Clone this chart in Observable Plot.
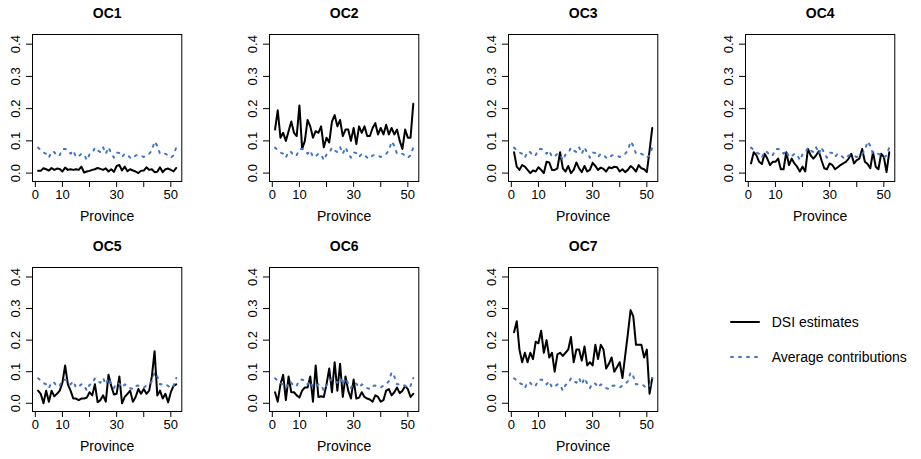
<!DOCTYPE html>
<html><head><meta charset="utf-8">
<script src="https://cdn.jsdelivr.net/npm/d3@7"></script>
<script src="https://cdn.jsdelivr.net/npm/@observablehq/plot@0.6"></script>
<style>
body{margin:0;background:#fff;}
#wrap{position:relative;width:921px;height:459px;font-family:"Liberation Sans",Arial,Helvetica,sans-serif;color:#000;}
#wrap svg{position:absolute;overflow:visible;}
.leg{position:absolute;font-size:14px;line-height:16px;white-space:nowrap;}
</style></head><body><div id="wrap"></div>
<script>
const province = [1,2,3,4,5,6,7,8,9,10,11,12,13,14,15,16,17,18,19,20,21,22,23,24,25,26,27,28,29,30,31,32,33,34,35,36,37,38,39,40,41,42,43,44,45,46,47,48,49,50,51,52];
const avgContrib = [0.079,0.072,0.064,0.06,0.048,0.067,0.065,0.053,0.056,0.074,0.075,0.072,0.06,0.07,0.05,0.052,0.06,0.058,0.04,0.058,0.062,0.079,0.07,0.065,0.08,0.06,0.08,0.062,0.048,0.064,0.062,0.05,0.06,0.056,0.048,0.045,0.055,0.056,0.054,0.05,0.056,0.06,0.07,0.098,0.085,0.06,0.06,0.06,0.055,0.048,0.055,0.08];
const oc1 = [0.007,0.007,0.015,0.012,0.008,0.016,0.01,0.014,0.013,0.005,0.017,0.01,0.012,0.01,0.012,0.01,0.02,0.002,0.005,0.007,0.01,0.012,0.016,0.013,0.01,0.015,0.005,0.012,0.004,0.022,0.025,0.008,0.02,0.006,0.012,0.008,0.005,0.0,0.007,0.008,0.018,0.01,0.012,0.003,0.004,0.018,0.003,0.012,0.014,0.01,0.005,0.016];
const oc2 = [0.135,0.195,0.11,0.125,0.1,0.13,0.16,0.125,0.115,0.21,0.075,0.1,0.165,0.145,0.11,0.13,0.125,0.145,0.08,0.11,0.095,0.16,0.18,0.145,0.165,0.115,0.135,0.135,0.1,0.14,0.09,0.145,0.125,0.145,0.115,0.115,0.14,0.155,0.12,0.14,0.12,0.15,0.12,0.14,0.12,0.135,0.1,0.075,0.135,0.11,0.11,0.215];
const oc3 = [0.065,0.02,0.01,0.025,0.02,0.01,0.0,0.008,0.005,0.018,0.01,0.0,0.035,0.033,0.01,0.01,0.015,0.065,0.015,0.005,0.022,0.0,0.01,0.033,0.015,0.003,0.022,0.005,0.01,0.032,0.022,0.01,0.017,0.013,0.005,0.018,0.015,0.02,0.018,0.005,0.012,0.003,0.01,0.022,0.015,0.005,0.025,0.015,0.012,0.003,0.07,0.14];
const oc4 = [0.03,0.065,0.055,0.035,0.028,0.06,0.045,0.025,0.035,0.035,0.045,0.012,0.012,0.065,0.025,0.045,0.03,0.02,0.005,0.02,0.005,0.075,0.055,0.045,0.055,0.068,0.04,0.015,0.012,0.03,0.025,0.012,0.018,0.025,0.03,0.035,0.045,0.06,0.03,0.04,0.045,0.075,0.035,0.028,0.015,0.065,0.02,0.012,0.06,0.05,0.003,0.065];
const oc5 = [0.04,0.03,0.0,0.04,0.005,0.04,0.022,0.03,0.04,0.065,0.12,0.06,0.04,0.015,0.015,0.01,0.015,0.015,0.018,0.035,0.025,0.06,0.003,0.01,0.025,0.005,0.09,0.055,0.028,0.03,0.085,0.0,0.02,0.03,0.04,0.005,0.02,0.045,0.03,0.045,0.03,0.04,0.085,0.165,0.025,0.04,0.015,0.03,0.003,0.035,0.055,0.06];
const oc6 = [0.035,0.005,0.06,0.09,0.01,0.085,0.035,0.035,0.025,0.018,0.04,0.05,0.05,0.085,0.005,0.12,0.02,0.022,0.02,0.06,0.11,0.035,0.13,0.04,0.125,0.02,0.085,0.04,0.015,0.075,0.015,0.018,0.035,0.02,0.015,0.012,0.005,0.025,0.02,0.005,0.01,0.04,0.045,0.025,0.035,0.05,0.032,0.04,0.055,0.045,0.02,0.03];
const oc7 = [0.225,0.26,0.17,0.13,0.16,0.13,0.16,0.14,0.195,0.19,0.23,0.16,0.2,0.145,0.16,0.1,0.155,0.16,0.15,0.16,0.17,0.21,0.13,0.17,0.17,0.135,0.18,0.12,0.13,0.12,0.185,0.14,0.185,0.17,0.11,0.125,0.145,0.1,0.115,0.13,0.08,0.15,0.22,0.295,0.275,0.185,0.185,0.185,0.145,0.17,0.03,0.08];
const panelNames = ["OC1","OC2","OC3","OC4","OC5","OC6","OC7"];
const panelSeries = [oc1,oc2,oc3,oc4,oc5,oc6,oc7];
const seriesNames = ["DSI estimates","Average contributions"];
const xTicks = [0,10,20,30,40,50];
const xTickLabels = [0,10,30,50];
const yTicks = [0,0.1,0.2,0.3,0.4];
const xLabel = "Province";

const blue = "#4575C4";
const colLeft = [31.7, 269.3, 507.7, 745];
const boxW = 149.3;
const rowSvgTop = [0, 229], rowSvgH = [229, 230];
const rowBoxTop = [34, 267], rowBoxBottom = [181, 411];
const wrap = document.getElementById("wrap");

panelNames.forEach((name, k) => {
  const col = k % 4, row = Math.floor(k / 4);
  const svgLeft = colLeft[col] - 32;
  const mL = 32, mR = 10;
  const mT = rowBoxTop[row] - rowSvgTop[row];
  const mB = rowSvgTop[row] + rowSvgH[row] - rowBoxBottom[row];
  const data = province.map((p, i) => ({p, dsi: panelSeries[k][i], avg: avgContrib[i]}));
  const chart = Plot.plot({
    width: mL + boxW + mR, height: rowSvgH[row],
    marginLeft: mL, marginRight: mR, marginTop: mT, marginBottom: mB,
    x: {domain: [-1.04, 54.04]},
    y: {domain: [-0.026, 0.43]},
    style: {fontFamily: '"Liberation Sans",Arial,Helvetica,sans-serif', fontSize: "13px", color: "#000", background: "transparent", overflow: "visible"},
    marks: [
      Plot.line(data, {x: "p", y: "dsi", stroke: "#000", strokeWidth: 2, strokeLinejoin: "round", strokeLinecap: "round"}),
      Plot.line(data, {x: "p", y: "avg", stroke: blue, strokeWidth: 2, strokeDasharray: "2,6", strokeLinecap: "round"}),
      Plot.frame({stroke: "#000", strokeWidth: 1}),
      Plot.axisX({ticks: xTicks, tickFormat: d => xTickLabels.includes(d) ? String(d) : "", tickSize: 6, tickPadding: 2, fontSize: 13, label: null}),
      Plot.axisY({ticks: yTicks, tickFormat: d3.format(".1f"), tickSize: 6, tickPadding: 7, tickRotate: -90, fontSize: 13, label: null}),
      Plot.text([name], {frameAnchor: "top", dy: -20.5, text: d => d, fontWeight: "bold", fontSize: 14, lineAnchor: "middle"}),
      Plot.text([xLabel], {frameAnchor: "bottom", dy: 35.5, text: d => d, fontSize: 14, lineAnchor: "middle"})
    ]
  });
  chart.style.left = svgLeft + "px";
  chart.style.top = rowSvgTop[row] + "px";
  wrap.appendChild(chart);
});

// legend
const legY = [321.7, 356.7];
seriesNames.forEach((s, i) => {
  const ns = "http://www.w3.org/2000/svg";
  const svg = document.createElementNS(ns, "svg");
  svg.setAttribute("width", 34); svg.setAttribute("height", 8);
  svg.style.left = "728px"; svg.style.top = (legY[i] - 4) + "px";
  const ln = document.createElementNS(ns, "line");
  ln.setAttribute("x1", 3); ln.setAttribute("x2", i === 0 ? 31 : 29);
  ln.setAttribute("y1", 4); ln.setAttribute("y2", 4);
  ln.setAttribute("stroke", i === 0 ? "#000" : blue);
  ln.setAttribute("stroke-width", 2);
  ln.setAttribute("stroke-linecap", "round");
  if (i === 1) ln.setAttribute("stroke-dasharray", "2,6");
  svg.appendChild(ln);
  wrap.appendChild(svg);
  const t = document.createElement("div");
  t.className = "leg";
  t.textContent = s;
  t.style.left = "771.7px";
  t.style.top = (legY[i] - 8) + "px";
  wrap.appendChild(t);
});
</script></body></html>
